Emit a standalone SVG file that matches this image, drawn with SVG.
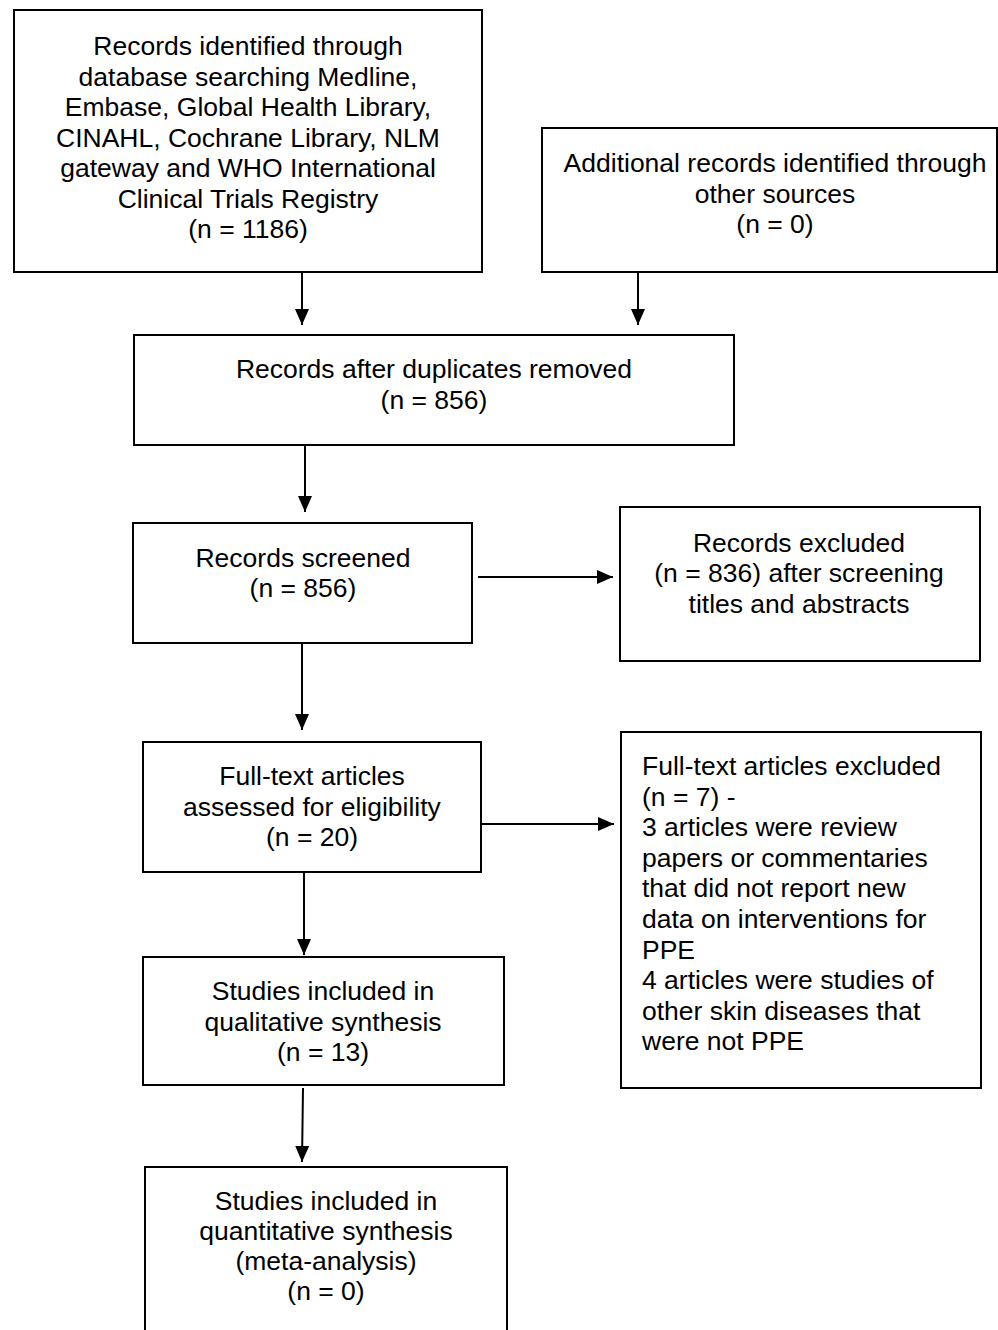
<svg xmlns="http://www.w3.org/2000/svg" width="998" height="1330" viewBox="0 0 998 1330">
<style>
.box{fill:#fff;stroke:#000;stroke-width:2}
.t{font-family:"Liberation Sans",Arial,sans-serif;font-size:26.5px;fill:#000}
.c{text-anchor:middle}
.conn{stroke:#000;stroke-width:2;fill:none}
</style>
<defs>
<marker id="ah" markerUnits="userSpaceOnUse" markerWidth="16" markerHeight="16" viewBox="0 0 16 14" refX="16" refY="7" orient="auto">
<path d="M0,0 L16,7 L0,14 Z" fill="#000"/>
</marker>
</defs>
<rect width="998" height="1330" fill="#fff"/>
<g id="n1">
<rect class="box" x="14" y="10" width="468" height="262"/>
<text class="t c" x="248"><tspan x="248" y="55">Records identified through</tspan><tspan x="248" y="85.5">database searching Medline,</tspan><tspan x="248" y="116">Embase, Global Health Library,</tspan><tspan x="248" y="146.5">CINAHL, Cochrane Library, NLM</tspan><tspan x="248" y="177">gateway and WHO International</tspan><tspan x="248" y="207.5">Clinical Trials Registry</tspan><tspan x="248" y="238">(n = 1186)</tspan></text>
</g>
<g id="n2">
<rect class="box" x="542" y="128" width="455" height="144"/>
<text class="t c"><tspan x="775" y="172">Additional records identified through</tspan><tspan x="775" y="202.5">other sources</tspan><tspan x="775" y="233">(n = 0)</tspan></text>
</g>
<g id="n3">
<rect class="box" x="134" y="335" width="600" height="110"/>
<text class="t c"><tspan x="434" y="378">Records after duplicates removed</tspan><tspan x="434" y="408.5">(n = 856)</tspan></text>
</g>
<g id="n4">
<rect class="box" x="133" y="523" width="339" height="120"/>
<text class="t c"><tspan x="303" y="566.5">Records screened</tspan><tspan x="303" y="597">(n = 856)</tspan></text>
</g>
<g id="n5">
<rect class="box" x="620" y="507" width="360" height="154"/>
<text class="t c"><tspan x="799" y="551.5">Records excluded</tspan><tspan x="799" y="582">(n = 836) after screening</tspan><tspan x="799" y="612.5">titles and abstracts</tspan></text>
</g>
<g id="n6">
<rect class="box" x="143" y="742" width="338" height="130"/>
<text class="t c"><tspan x="312" y="785">Full-text articles</tspan><tspan x="312" y="815.5">assessed for eligibility</tspan><tspan x="312" y="846">(n = 20)</tspan></text>
</g>
<g id="n7">
<rect class="box" x="621" y="732" width="360" height="356"/>
<text class="t"><tspan x="642" y="775">Full-text articles excluded</tspan><tspan x="642" y="805.6">(n = 7) -</tspan><tspan x="642" y="836.2">3 articles were review</tspan><tspan x="642" y="866.8">papers or commentaries</tspan><tspan x="642" y="897.4">that did not report new</tspan><tspan x="642" y="928">data on interventions for</tspan><tspan x="642" y="958.6">PPE</tspan><tspan x="642" y="989.2">4 articles were studies of</tspan><tspan x="642" y="1019.8">other skin diseases that</tspan><tspan x="642" y="1050.4">were not PPE</tspan></text>
</g>
<g id="n8">
<rect class="box" x="143" y="957" width="361" height="128"/>
<text class="t c"><tspan x="323" y="1000">Studies included in</tspan><tspan x="323" y="1030.5">qualitative synthesis</tspan><tspan x="323" y="1061">(n = 13)</tspan></text>
</g>
<g id="n9">
<rect class="box" x="145" y="1167" width="362" height="200"/>
<text class="t c"><tspan x="326" y="1210">Studies included in</tspan><tspan x="326" y="1240">quantitative synthesis</tspan><tspan x="326" y="1270">(meta-analysis)</tspan><tspan x="326" y="1300">(n = 0)</tspan></text>
</g>
<g id="connectors">
<line class="conn" x1="302" y1="272" x2="302" y2="325" marker-end="url(#ah)"/>
<line class="conn" x1="638" y1="272" x2="638" y2="325" marker-end="url(#ah)"/>
<line class="conn" x1="305" y1="445" x2="305" y2="512" marker-end="url(#ah)"/>
<line class="conn" x1="478" y1="577" x2="613" y2="577" marker-end="url(#ah)"/>
<line class="conn" x1="302" y1="643" x2="302" y2="730" marker-end="url(#ah)"/>
<line class="conn" x1="481" y1="824" x2="614" y2="824" marker-end="url(#ah)"/>
<line class="conn" x1="304" y1="872" x2="304" y2="955" marker-end="url(#ah)"/>
<line class="conn" x1="303" y1="1088" x2="302" y2="1162" marker-end="url(#ah)"/>
</g>
</svg>
